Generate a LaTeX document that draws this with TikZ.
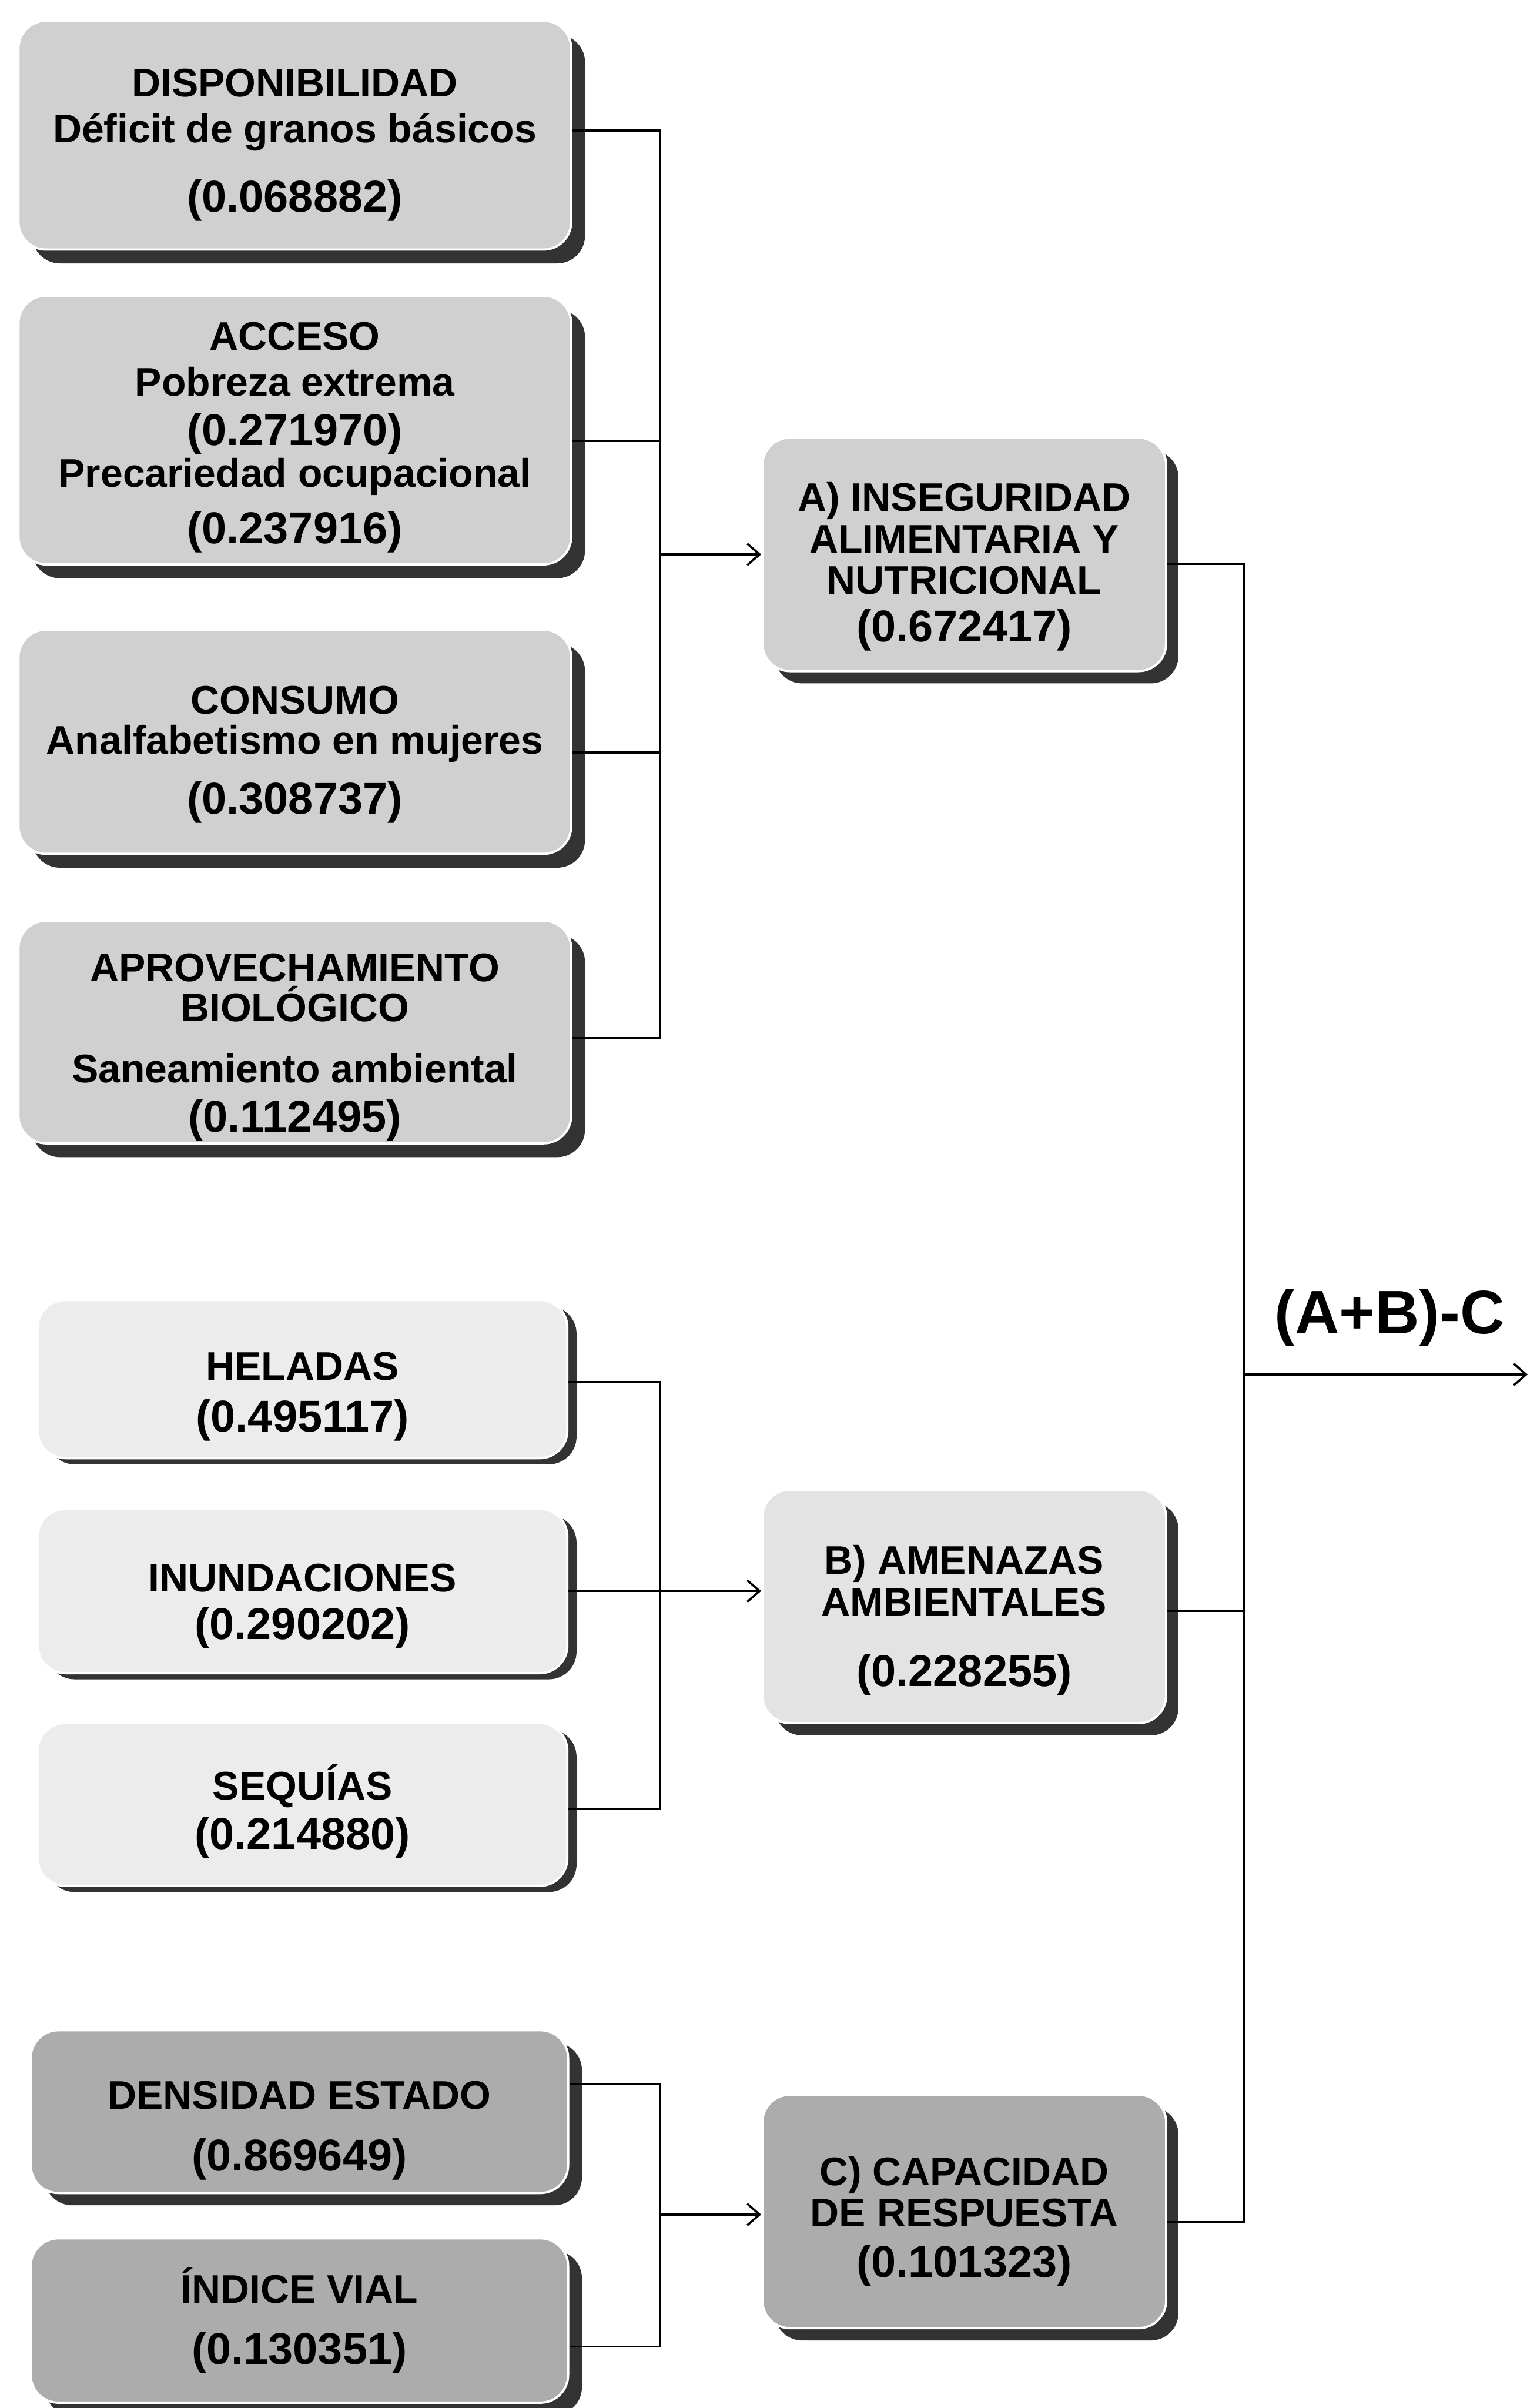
\documentclass[tikz,border=0pt]{standalone}
\usepackage{fontspec}
\setmainfont{Liberation Sans}
\usetikzlibrary{shadows,arrows.meta}

\definecolor{grisa}{HTML}{D0D0D0}
\definecolor{grisb}{HTML}{ECECEC}
\definecolor{grisc}{HTML}{ACACAC}
\definecolor{sombra}{HTML}{333333}

\newcommand{\valor}[1]{{\fontsize{29}{30}\selectfont #1}}
\newcommand{\baja}[1]{\rule{0pt}{#1}}

\begin{document}
\begin{tikzpicture}[x=1pt,y=-1pt,line width=1.4pt,>={Straight Barb[length=8pt,width=14pt]},
    caja/.style={rounded corners=18pt, draw=white, line width=1.5pt, align=center,
      inner sep=0pt, font=\fontsize{26}{30}\selectfont\bfseries},
    cajaa/.style={caja, fill=grisa, minimum width=360pt,
      drop shadow={shadow xshift=9pt, shadow yshift=-9pt, fill=sombra, opacity=1}},
    cajab/.style={caja, fill=grisb, minimum width=345pt,
      drop shadow={shadow xshift=6pt, shadow yshift=-4pt, fill=sombra, opacity=1}},
    cajac/.style={caja, fill=grisc, minimum width=350pt,
      drop shadow={shadow xshift=9pt, shadow yshift=-8pt, fill=sombra, opacity=1}},
    total/.style={caja, minimum width=263pt, minimum height=152pt,
      drop shadow={shadow xshift=8pt, shadow yshift=-8pt, fill=sombra, opacity=1}}]
    \fill[white] (0,0) rectangle (1001,1568);

    % inseguridad alimentaria
    \node[cajaa, minimum height=149pt] (disp) at (192,88) {\baja{31pt}DISPONIBILIDAD\\ D\'eficit de granos b\'asicos\\[15pt] \valor{(0.068882)}};
    \node[cajaa, minimum height=175pt] (acce) at (192,280) {\baja{28pt}ACCESO\\ Pobreza extrema\\[2pt] \valor{(0.271970)}\\[-3pt] Precariedad ocupacional\\[7pt] \valor{(0.237916)}};
    \node[cajaa, minimum height=146pt] (cons) at (192,483) {\baja{35pt}CONSUMO\\[-4pt] Analfabetismo en mujeres\\[9pt] \valor{(0.308737)}};
    \node[cajaa, minimum height=145pt] (apro) at (192,672) {\baja{38pt}APROVECHAMIENTO\\[-4pt] BIOL\'OGICO\\[10pt] Saneamiento ambiental\\[2pt] \valor{(0.112495)}};
    \node[total, fill=grisa] (insa) at (628,361) {\baja{35pt}A) INSEGURIDAD\\[-3pt] ALIMENTARIA Y\\[-3pt] NUTRICIONAL\\[1pt] \valor{(0.672417)}};

    % amenazas
    \node[cajab, minimum height=103pt] (hela) at (197,898) {\baja{41pt}HELADAS\\[4pt] \valor{(0.495117)}};
    \node[cajab, minimum height=107pt] (inun) at (197,1036) {\baja{38pt}INUNDACIONES\\[1pt] \valor{(0.290202)}};
    \node[cajab, minimum height=106pt] (sequ) at (197,1175) {\baja{32pt}SEQU\'IAS\\[2pt] \valor{(0.214880)}};
    \node[total, fill=grisb!96!black] (amen) at (628,1046) {\baja{37pt}B) AMENAZAS\\[-3pt] AMBIENTALES\\[16pt] \valor{(0.228255)}};

    % capacidad de respuesta
    \node[cajac, minimum height=106pt] (dens) at (195,1375) {\baja{43pt}DENSIDAD ESTADO\\[10pt] \valor{(0.869649)}};
    \node[cajac, minimum height=107pt] (indi) at (195,1511) {\'INDICE VIAL\\[10pt] \valor{(0.130351)}};
    \node[total, fill=grisc] (capa) at (628,1440) {\baja{32pt}C) CAPACIDAD\\[-3pt] DE RESPUESTA\\[3pt] \valor{(0.101323)}};

    \coordinate (bus) at (430,0);
    \coordinate (fin) at (810,0);
    \coordinate (sale) at (995,895);

    \draw ([yshift=3pt]disp.east) -- ([yshift=3pt]disp.east -| bus) |- ([yshift=-4pt]apro.east);
    \draw ([yshift=-7pt]acce.east) -- ([yshift=-7pt]acce.east -| bus);
    \draw ([yshift=-7pt]cons.east) -- ([yshift=-7pt]cons.east -| bus);
    \draw[->] (insa.west -| bus) -- (insa.west);

    \draw ([yshift=-2pt]hela.east) -- ([yshift=-2pt]hela.east -| bus) |- ([yshift=-3pt]sequ.east);
    \draw (inun.east) -- (inun.east -| bus);
    \draw[->] (inun.east -| bus) -- (inun.east -| amen.west);

    \draw ([yshift=18pt]dens.east) -- ([yshift=18pt]dens.east -| bus) |- ([yshift=-17pt]indi.east);
    \draw[->] ([yshift=-2pt]capa.west -| bus) -- ([yshift=-2pt]capa.west);

    \draw ([yshift=-6pt]insa.east) -- ([yshift=-6pt]insa.east -| fin) |- ([yshift=-7pt]capa.east);
    \draw ([yshift=-3pt]amen.east) -- ([yshift=-3pt]amen.east -| fin);
    \draw[->] (sale -| fin) -- (sale);
    \node[font=\fontsize{40}{40}\selectfont\bfseries] (form) at (905,858) {(A+B)-C};
\end{tikzpicture}
\end{document}
